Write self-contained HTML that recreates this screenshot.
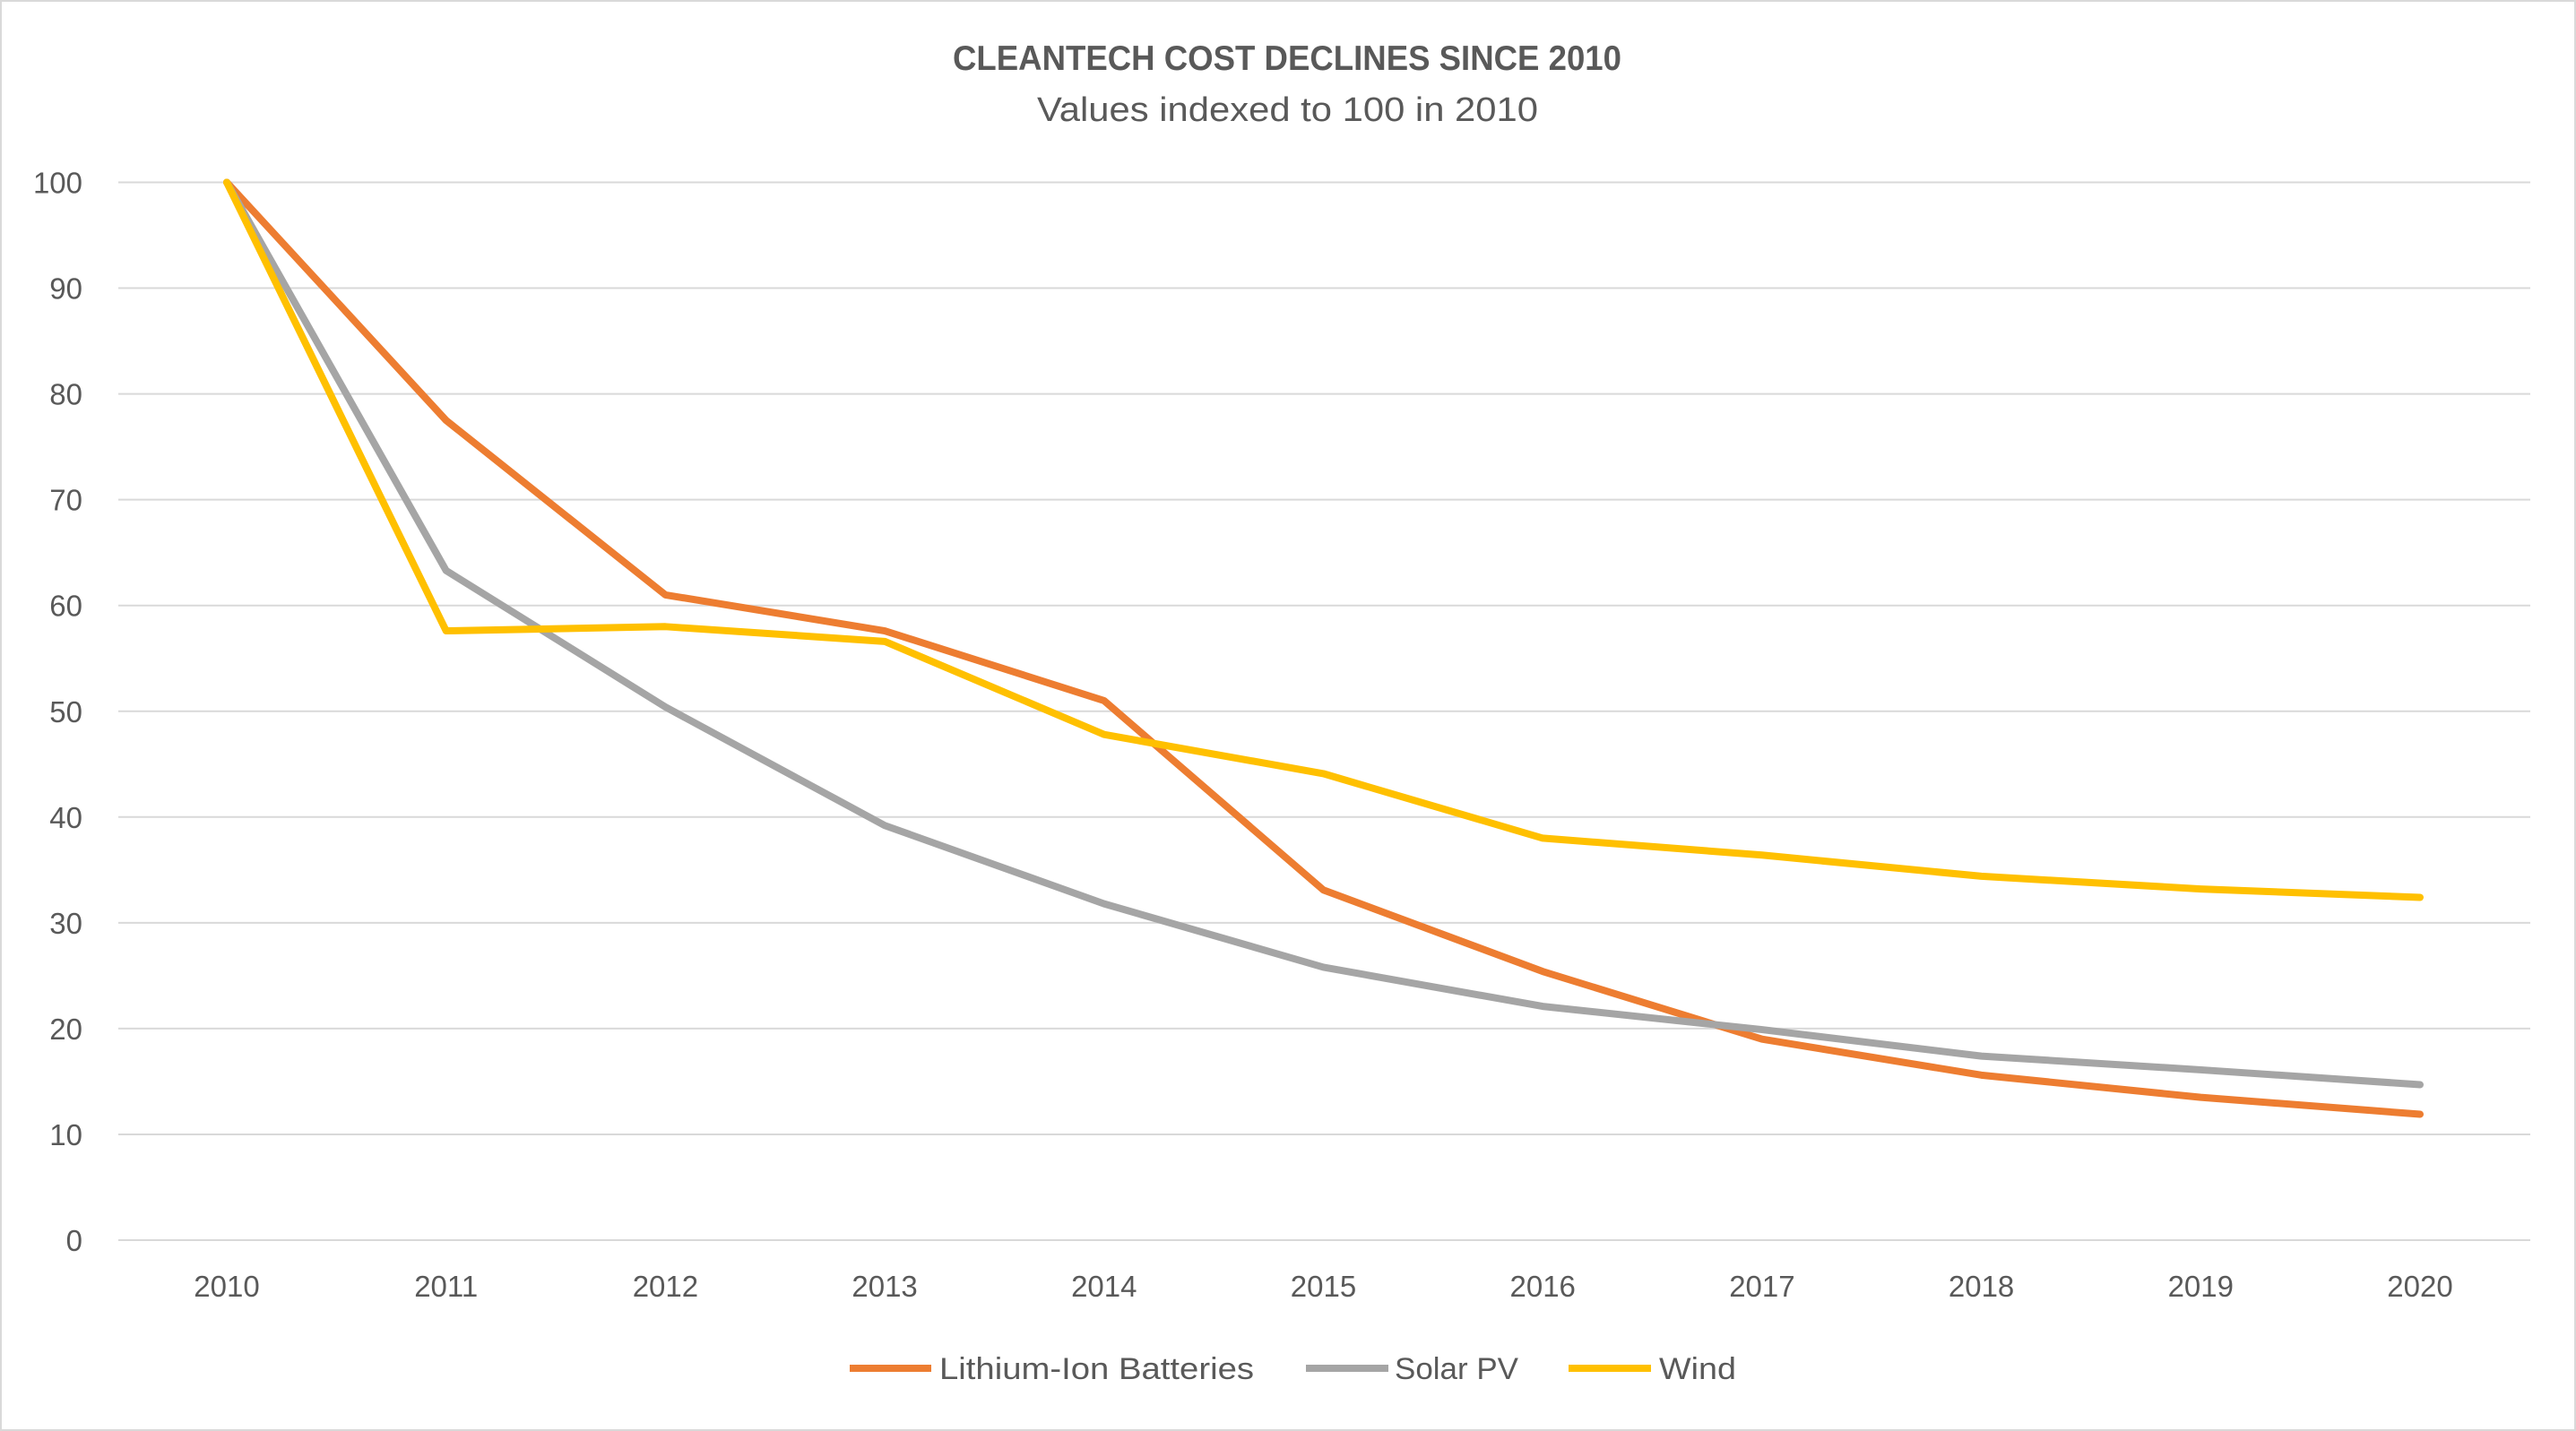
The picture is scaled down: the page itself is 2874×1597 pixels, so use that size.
<!DOCTYPE html>
<html><head><meta charset="utf-8"><style>
html,body{margin:0;padding:0;background:#fff;}
svg{display:block;font-family:"Liberation Sans",sans-serif;}
</style></head><body>
<svg id="chart" width="2874" height="1597" viewBox="0 0 2874 1597" xmlns="http://www.w3.org/2000/svg">
<rect x="1" y="1" width="2872" height="1595" fill="#fff" stroke="#d9d9d9" stroke-width="2"/>
<text x="1063" y="78" font-size="39" font-weight="bold" fill="#595959" textLength="746" lengthAdjust="spacingAndGlyphs">CLEANTECH COST DECLINES SINCE 2010</text>
<text x="1157" y="135" font-size="38" fill="#595959" textLength="559" lengthAdjust="spacingAndGlyphs">Values indexed to 100 in 2010</text>
<g id="grid"></g><g id="yticks"></g><g id="xticks"></g><g id="series"></g>
<g>
<line x1="948" y1="1527" x2="1039" y2="1527" stroke="#ED7D31" stroke-width="8"/>
<text x="1048" y="1539" font-size="34" fill="#595959" textLength="351" lengthAdjust="spacingAndGlyphs">Lithium-Ion Batteries</text>
<line x1="1457" y1="1527" x2="1549" y2="1527" stroke="#A5A5A5" stroke-width="8"/>
<text x="1556" y="1539" font-size="34" fill="#595959" textLength="138" lengthAdjust="spacingAndGlyphs">Solar PV</text>
<line x1="1750" y1="1527" x2="1842" y2="1527" stroke="#FFC000" stroke-width="8"/>
<text x="1851" y="1539" font-size="34" fill="#595959" textLength="86" lengthAdjust="spacingAndGlyphs">Wind</text>
</g>
</svg>
<script>
const years = ["2010","2011","2012","2013","2014","2015","2016","2017","2018","2019","2020"];
const lithium = [100, 77.5, 61, 57.6, 51, 33.1, 25.4, 19, 15.6, 13.5, 11.9];
const solar = [100, 63.3, 50.4, 39.2, 31.8, 25.8, 22.1, 19.9, 17.4, 16.1, 14.7];
const wind = [100, 57.6, 58, 56.6, 47.8, 44.1, 38, 36.4, 34.4, 33.2, 32.4];
const yTicks = [0,10,20,30,40,50,60,70,80,90,100];

const NS="http://www.w3.org/2000/svg";
const x0=253, x1=2700, plotL=132, plotR=2823, yTop=203.5, yBot=1384;
function xs(i){return x0+(x1-x0)*i/(years.length-1);}
function ys(v){return yBot-(yBot-yTop)*v/100;}
const grid=document.getElementById('grid'), yt=document.getElementById('yticks'), xt=document.getElementById('xticks'), ser=document.getElementById('series');
yTicks.forEach(v=>{
  const l=document.createElementNS(NS,'line');
  l.setAttribute('x1',plotL);l.setAttribute('x2',plotR);l.setAttribute('y1',ys(v));l.setAttribute('y2',ys(v));
  l.setAttribute('stroke','#d9d9d9');l.setAttribute('stroke-width','2');
  
  
  grid.appendChild(l);
  const t=document.createElementNS(NS,'text');
  t.setAttribute('x',92);t.setAttribute('y',ys(v)+12);t.setAttribute('text-anchor','end');
  t.setAttribute('font-size','33');t.setAttribute('fill','#595959');t.textContent=v;
  
  
  yt.appendChild(t);
});
years.forEach((y,i)=>{
  const t=document.createElementNS(NS,'text');
  t.setAttribute('x',xs(i));t.setAttribute('y',1447);t.setAttribute('text-anchor','middle');
  t.setAttribute('font-size','33');t.setAttribute('fill','#595959');t.textContent=y;
  
  
  xt.appendChild(t);
});
[[lithium,'#ED7D31','line-lithium'],[solar,'#A5A5A5','line-solar'],[wind,'#FFC000','line-wind']].forEach(([d,c,n])=>{
  const p=document.createElementNS(NS,'polyline');
  p.setAttribute('points',d.map((v,i)=>xs(i)+','+ys(v)).join(' '));
  p.setAttribute('fill','none');p.setAttribute('stroke',c);p.setAttribute('stroke-width','8');
  p.setAttribute('stroke-linejoin','round');p.setAttribute('stroke-linecap','round');
  
  
  ser.appendChild(p);
});
</script>
</body></html>
